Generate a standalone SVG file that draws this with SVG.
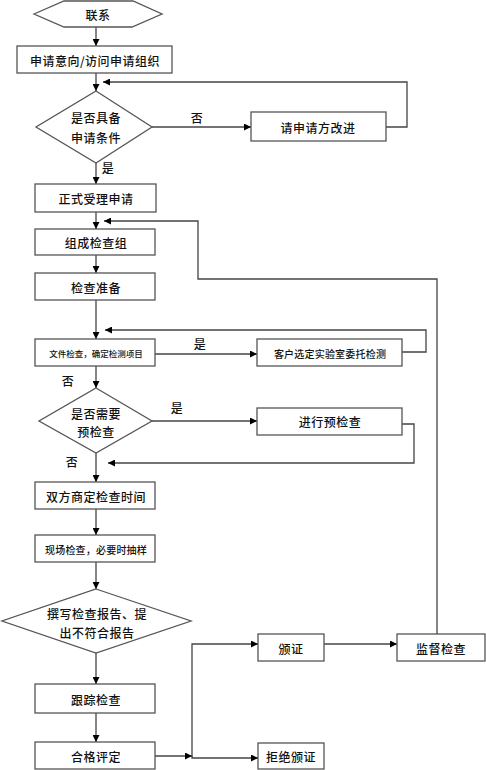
<svg xmlns="http://www.w3.org/2000/svg" width="486" height="770" viewBox="0 0 486 770">
<style>
.n{fill:#fff;stroke:#555;stroke-width:1.3}
.t{font-family:"Noto Sans CJK SC","Noto Sans",sans-serif;font-size:12px;font-weight:500;fill:#111;text-anchor:middle;dominant-baseline:central;letter-spacing:0.5px}
.s{font-size:10px;letter-spacing:0.2px}
.xs{font-size:8.5px;letter-spacing:0}
.c{fill:none;stroke:#444;stroke-width:1.3}
</style>
<defs>
<marker id="a" viewBox="0 0 10 10" refX="10" refY="5" markerWidth="7" markerHeight="7" markerUnits="userSpaceOnUse" orient="auto">
<path d="M0,0L10,5L0,10z" fill="#000"/>
</marker>
</defs>
<rect width="486" height="770" fill="#fff"/>
<g id="connectors">
<path class="c" d="M96,27V46" marker-end="url(#a)"/>
<path class="c" d="M96,73V91" marker-end="url(#a)"/>
<path class="c" d="M152,127H251" marker-end="url(#a)"/>
<path class="c" d="M386,127H407V82H103" marker-end="url(#a)"/>
<path class="c" d="M96,163V184" marker-end="url(#a)"/>
<path class="c" d="M96,212V229" marker-end="url(#a)"/>
<path class="c" d="M437,634V279H198V221H104" marker-end="url(#a)"/>
<path class="c" d="M96,255V273" marker-end="url(#a)"/>
<path class="c" d="M96,300V339" marker-end="url(#a)"/>
<path class="c" d="M155,354H257" marker-end="url(#a)"/>
<path class="c" d="M402,352H426V330H105" marker-end="url(#a)"/>
<path class="c" d="M96,366V388" marker-end="url(#a)"/>
<path class="c" d="M152,421H257" marker-end="url(#a)"/>
<path class="c" d="M402,424H414V463H108" marker-end="url(#a)"/>
<path class="c" d="M96,453V482" marker-end="url(#a)"/>
<path class="c" d="M96,509V535" marker-end="url(#a)"/>
<path class="c" d="M96,562V589" marker-end="url(#a)"/>
<path class="c" d="M96,653V684" marker-end="url(#a)"/>
<path class="c" d="M96,713V742" marker-end="url(#a)"/>
<path class="c" d="M155,756H192" marker-end="url(#a)"/>
<path class="c" d="M192,757V644H258" marker-end="url(#a)"/>
<path class="c" d="M192,756V758H258" marker-end="url(#a)"/>
<path class="c" d="M324,644H397" marker-end="url(#a)"/>
<text class="t" x="197" y="117">否</text>
<text class="t" x="108" y="167">是</text>
<text class="t" x="200" y="343">是</text>
<text class="t" x="68" y="380">否</text>
<text class="t" x="177" y="407">是</text>
<text class="t" x="72" y="461">否</text>
</g>
<g id="n1"><polygon class="n" points="34,14 64,1 133,1 162,14 132,27 64,27"/><text class="t" x="98" y="14">联系</text></g>
<g id="n2"><rect class="n" x="17" y="46" width="155" height="27"/><text class="t" x="95" y="60">申请意向/访问申请组织</text></g>
<g id="n3"><polygon class="n" points="96,91 152,127 96,163 36,127"/><text class="t" x="96" y="117">是否具备</text><text class="t" x="96" y="137">申请条件</text></g>
<g id="n4"><rect class="n" x="251" y="112" width="135" height="29"/><text class="t" x="318" y="127">请申请方改进</text></g>
<g id="n5"><rect class="n" x="35" y="184" width="121" height="28"/><text class="t" x="96" y="198">正式受理申请</text></g>
<g id="n6"><rect class="n" x="35" y="229" width="120" height="26"/><text class="t" x="96" y="242">组成检查组</text></g>
<g id="n7"><rect class="n" x="35" y="273" width="120" height="27"/><text class="t" x="96" y="287">检查准备</text></g>
<g id="n8"><rect class="n" x="35" y="339" width="120" height="27"/><text class="t xs" x="96" y="353">文件检查，确定检测项目</text></g>
<g id="n9"><rect class="n" x="257" y="339" width="145" height="27"/><text class="t s" x="330" y="353">客户选定实验室委托检测</text></g>
<g id="n10"><polygon class="n" points="96,388 152,421 96,453 39,421"/><text class="t" x="96" y="413">是否需要</text><text class="t" x="96" y="431">预检查</text></g>
<g id="n11"><rect class="n" x="257" y="408" width="145" height="27"/><text class="t" x="330" y="421">进行预检查</text></g>
<g id="n12"><rect class="n" x="35" y="482" width="120" height="27"/><text class="t" x="96" y="496">双方商定检查时间</text></g>
<g id="n13"><rect class="n" x="35" y="535" width="120" height="27"/><text class="t s" x="96" y="549">现场检查，必要时抽样</text></g>
<g id="n14"><polygon class="n" points="96,589 191,621 96,653 2,621"/><text class="t" x="97" y="613">撰写检查报告、提</text><text class="t" x="97" y="632">出不符合报告</text></g>
<g id="n15"><rect class="n" x="35" y="684" width="120" height="29"/><text class="t" x="96" y="699">跟踪检查</text></g>
<g id="n16"><rect class="n" x="35" y="742" width="120" height="27"/><text class="t" x="96" y="756">合格评定</text></g>
<g id="n17"><rect class="n" x="258" y="634" width="66" height="27"/><text class="t" x="291" y="648">颁证</text></g>
<g id="n18"><rect class="n" x="397" y="634" width="88" height="27"/><text class="t" x="441" y="648">监督检查</text></g>
<g id="n19"><rect class="n" x="258" y="743" width="66" height="26"/><text class="t" x="291" y="756">拒绝颁证</text></g>
</svg>
